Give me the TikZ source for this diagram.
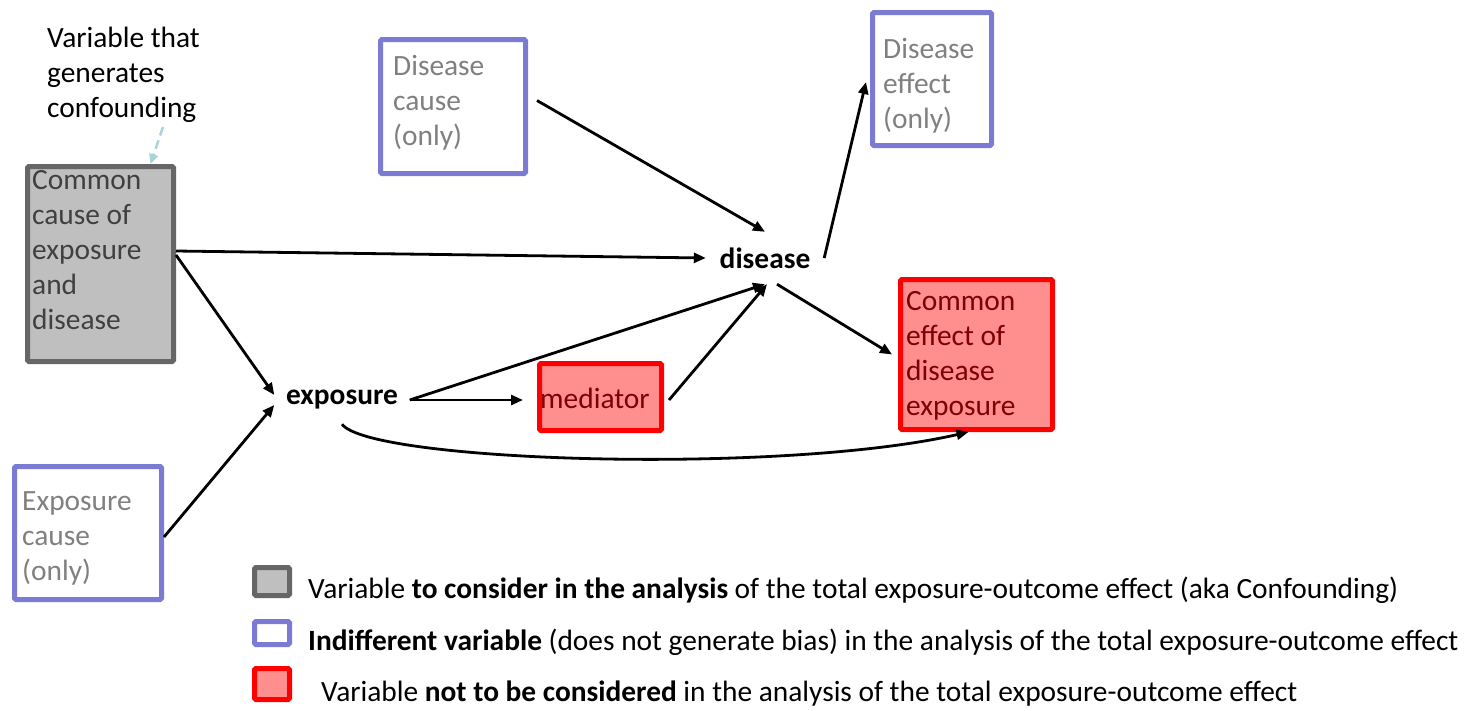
\documentclass[tikz,border=0pt]{standalone}
\usepackage{fontspec}
\setmainfont{Carlito}
\usetikzlibrary{arrows.meta}
\definecolor{boxgray}{HTML}{BFBFBF}
\definecolor{edgegray}{HTML}{666666}
\definecolor{indigo}{HTML}{7B7BD3}
\definecolor{pinkfill}{HTML}{FF8F8F}
\definecolor{redline}{HTML}{FF0000}
\definecolor{darkred}{HTML}{7F0000}
\definecolor{softgray}{HTML}{808080}
\definecolor{inkgray}{HTML}{404040}
\definecolor{noteblue}{HTML}{A5D6DA}
\begin{document}
\begin{tikzpicture}[x=1pt,y=-1pt,
  every node/.style={font=\fontsize{29.4}{35}\selectfont},
  confbox/.style={draw=edgegray, fill=boxgray, line width=5pt, rounded corners=1.5pt, inner sep=0},
  indiffbox/.style={draw=indigo, fill=white, line width=5pt, rounded corners=1.5pt, inner sep=0},
  avoidbox/.style={draw=redline, fill=pinkfill, line width=5pt, rounded corners=1.5pt, inner sep=0},
  % multi-line texts are placed by the baseline of their last line
  boxtext/.style={anchor=base west, align=left, inner sep=0},
  hub/.style={inner sep=0, font=\fontsize{29.4}{35}\selectfont\bfseries},
  link/.style={line width=2.8pt, -{Triangle[length=12pt,width=10pt]}},
  noteptr/.style={draw=noteblue, line width=2.5pt, dash pattern=on 9pt off 5pt,
    -{Triangle[length=10pt,width=9pt]}}]
\useasboundingbox[fill=white] (0,0) rectangle (1472,710);

% annotation
\node[boxtext] (note) at (47,117) {Variable that\\generates\\confounding};

% confounder
\node[confbox, minimum width=146, minimum height=195] (conf) at (100.5,264) {};
\node[boxtext, text=inkgray] (conftxt) at (32,329) {Common\\cause of\\exposure\\and\\disease};

% indifferent variables
\node[indiffbox, minimum width=145, minimum height=134] (dcause) at (453,106.5) {};
\node[boxtext, text=softgray] (dcausetxt) at (393,145) {Disease\\cause\\(only)};
\node[indiffbox, minimum width=119, minimum height=133] (deffect) at (932,79) {};
\node[boxtext, text=softgray] (deffecttxt) at (883,128) {Disease\\effect\\(only)};
\node[indiffbox, minimum width=147, minimum height=133] (ecause) at (88,533) {};
\node[boxtext, text=softgray] (ecausetxt) at (22,580) {Exposure\\cause\\(only)};

% variables to leave out
\node[avoidbox, minimum width=122, minimum height=67] (med) at (600.5,397) {};
\node[boxtext, text=darkred] (medtxt) at (540,408) {mediator};
\node[avoidbox, minimum width=152, minimum height=150] (ceff) at (976.5,354.5) {};
\node[boxtext, text=darkred] (cefftxt) at (906,415) {Common\\effect of\\disease\\exposure};

% exposure and outcome
\node[hub, minimum width=135, minimum height=48] (expo) at (342,400) {exposure};
\node[hub, minimum width=118, minimum height=52] (dis) at (765,258) {disease};

% connectors
\coordinate (notetip) at (163,127);
\draw[noteptr] (notetip) -- ([xshift=50pt]conf.north);
\draw[link] ([yshift=13pt]conf.east) -- (dis.west);
\draw[link] ([yshift=9pt]conf.east) -- ([yshift=5pt]expo.west);
\draw[link] ([yshift=-4pt]ecause.east) -- ([yshift=-5pt]expo.west);
\draw[link] ([xshift=9pt,yshift=6pt]dcause.east) -- (dis.north);
\draw[link] (dis.east) -- ([xshift=-4pt,yshift=-3pt]deffect.west);
\draw[link] (expo.east) -- ([xshift=-14pt,yshift=-3pt]med.west);
\draw[link] (expo.east) -- (dis.south);
\draw[link] ([xshift=5pt,yshift=-3pt]med.east) -- ([xshift=2pt]dis.south);
\draw[link] ([xshift=12pt]dis.south) -- ([xshift=-6pt]ceff.west);
\draw[link] (expo.south) .. controls (370,462) and (780,475) .. ([xshift=-8pt]ceff.south);

% legend
\node[confbox, minimum width=35, minimum height=28] (keyconf) at (272,581.5) {};
\node[indiffbox, minimum width=35, minimum height=23] (keyind) at (272,633) {};
\node[avoidbox, minimum width=35, minimum height=31] (keyavd) at (272,684) {};
\node[anchor=base west, inner sep=0] (keyconftxt) at (308,598)
  {Variable \textbf{to consider in the analysis} of the total exposure-outcome effect (aka Confounding)};
\node[anchor=base west, inner sep=0] (keyindtxt) at (308,650)
  {\textbf{Indifferent variable} (does not generate bias) in the analysis of the total exposure-outcome effect};
\node[anchor=base west, inner sep=0] (keyavdtxt) at (321,701)
  {Variable \textbf{not to be considered} in the analysis of the total exposure-outcome effect};
\end{tikzpicture}
\end{document}
